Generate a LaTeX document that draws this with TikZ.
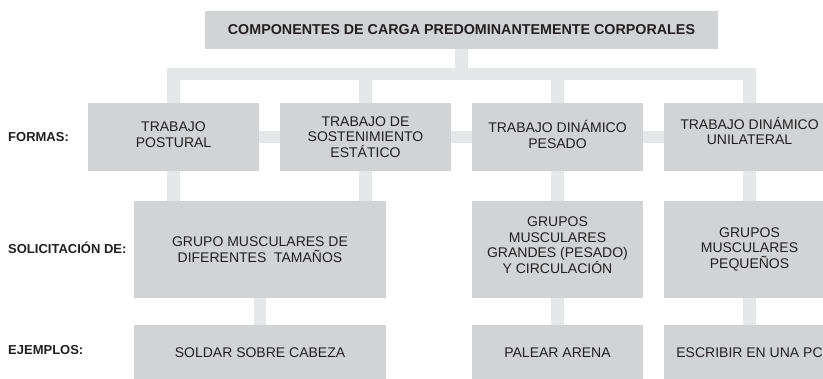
\documentclass[tikz,border=0pt]{standalone}
\usepackage{fontspec}
\setmainfont{Liberation Sans}
\usetikzlibrary{backgrounds}
\definecolor{boxgray}{RGB}{209,211,212}
\definecolor{linkgray}{RGB}{230,231,232}
\definecolor{inkgray}{RGB}{35,31,32}

\begin{document}
\begin{tikzpicture}[x=1pt,y=-1pt,
    box/.style={fill=boxgray,text=inkgray,inner sep=0pt,align=center,
      font=\fontsize{14}{15.5}\selectfont},
    link/.style={draw=linkgray,line width=12.5pt},
    lbl/.style={anchor=base west,inner sep=0pt,text=inkgray,font=\fontsize{13}{15}\selectfont\bfseries}]
    \useasboundingbox (0,0) rectangle (823,379);

    % Title
    \node[box,minimum width=513pt,minimum height=38pt,
      font=\fontsize{14.3}{15.5}\selectfont\bfseries] (title) at (461.5,30)
      {COMPONENTES DE CARGA PREDOMINANTEMENTE CORPORALES};
    \coordinate (hub) at (461.5,74);

    % Formas
    \node[box,minimum width=171pt,minimum height=68pt,text depth=5pt] (f1) at (173.5,137) {TRABAJO\\POSTURAL};
    \node[box,minimum width=171pt,minimum height=68pt] (f2) at (365.5,137) {TRABAJO DE\\SOSTENIMIENTO\\ESTÁTICO};
    \node[box,minimum width=171pt,minimum height=68pt,text depth=5pt] (f3) at (557.5,137) {TRABAJO DINÁMICO\\PESADO};
    \node[box,minimum width=171pt,minimum height=68pt,text depth=12pt] (f4) at (749.5,137) {TRABAJO DINÁMICO\\UNILATERAL};

    % Solicitacion
    \node[box,minimum width=252pt,minimum height=97pt] (s1) at (260,249.5) {GRUPO MUSCULARES DE\\DIFERENTES \ TAMAÑOS};
    \node[box,minimum width=171pt,minimum height=97pt,text depth=9pt] (s2) at (557.5,249.5) {GRUPOS\\MUSCULARES\\GRANDES (PESADO)\\Y CIRCULACIÓN};
    \node[box,minimum width=171pt,minimum height=97pt,text depth=3.5pt] (s3) at (749.5,249.5) {GRUPOS\\MUSCULARES\\PEQUEÑOS};

    % Ejemplos
    \node[box,minimum width=252pt,minimum height=56pt] (e1) at (260,353) {SOLDAR SOBRE CABEZA};
    \node[box,minimum width=171pt,minimum height=56pt] (e2) at (557.5,353) {PALEAR ARENA};
    \node[box,minimum width=171pt,minimum height=56pt] (e3) at (749.5,353) {ESCRIBIR EN UNA PC};

    % Row labels
    \node[lbl] (lforma) at (8,141.5) {FORMAS:};
    \node[lbl] (lsolic) at (8,254) {SOLICITACIÓN DE:};
    \node[lbl] (lejem) at (8,355) {EJEMPLOS:};

    % Links
    \begin{scope}[on background layer]
    \draw[link] (title.south) -- (hub);
    \draw[link] (f1.north) |- (f4.north |- hub) -- (f4.north);
    \draw[link] (f2.north) -- (f2.north |- hub);
    \draw[link] (f3.north) -- (f3.north |- hub);
    \draw[link] (f1.east) -- (f2.west);
    \draw[link] (f2.east) -- (f3.west);
    \draw[link] (f3.east) -- (f4.west);
    \draw[link] (f1.south) -- (f1.south |- s1.north);
    \draw[link] (f2.south) -- (f2.south |- s1.north);
    \draw[link] (f3.south) -- (s2.north);
    \draw[link] (f4.south) -- (s3.north);
    \draw[link] (s1.south) -- (e1.north);
    \draw[link] (s2.south) -- (e2.north);
    \draw[link] (s3.south) -- (e3.north);
    \end{scope}
\end{tikzpicture}
\end{document}
